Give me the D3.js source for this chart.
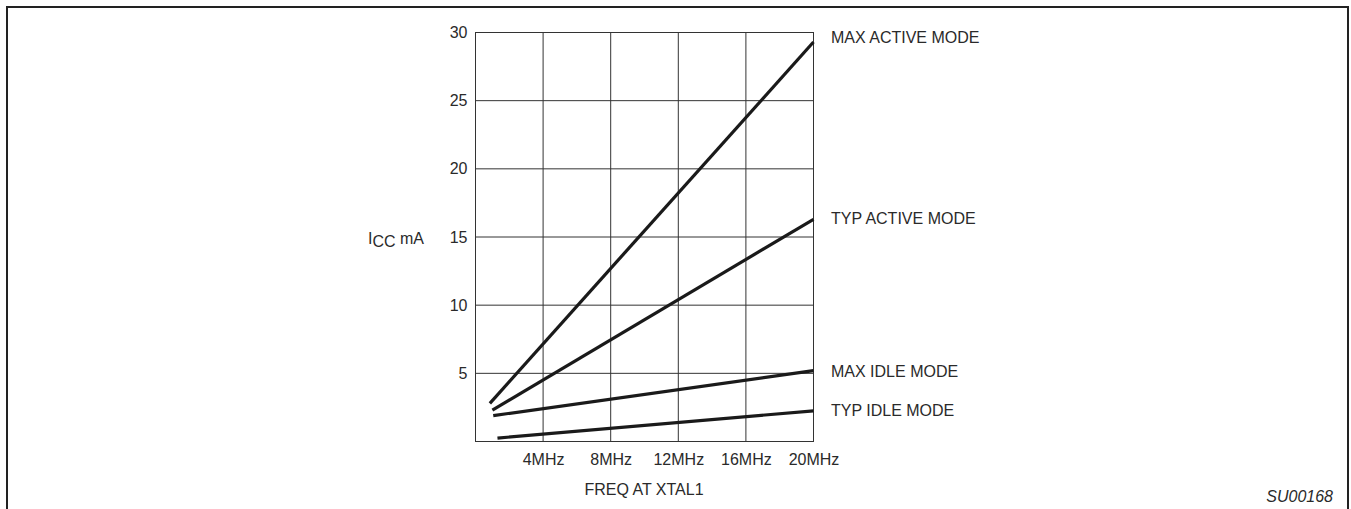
<!DOCTYPE html>
<html><head><meta charset="utf-8">
<script src="https://cdn.jsdelivr.net/npm/d3@7"></script>
<style>body{margin:0;background:#fff}svg{display:block}text{font-family:"Liberation Sans",Arial,sans-serif;fill:#2a2a2a}</style>
</head><body>
<svg id="c" width="1351" height="509"></svg>
<script>
const xTicks = [4, 8, 12, 16, 20];
const xTickLabels = ["4MHz", "8MHz", "12MHz", "16MHz", "20MHz"];
const yTicks = [5, 10, 15, 20, 25, 30];
const seriesNames = ["MAX ACTIVE MODE", "TYP ACTIVE MODE", "MAX IDLE MODE", "TYP IDLE MODE"];
const maxActive = [[0.85, 2.8], [20, 29.3]];
const typActive = [[1.0, 2.3], [20, 16.3]];
const maxIdle = [[1.05, 1.9], [20, 5.2]];
const typIdle = [[1.3, 0.25], [20, 2.25]];
const labelY = [29.7, 16.4, 5.2, 2.3];

const FS = 16;
const svg = d3.select("#c");
const x = d3.scaleLinear().domain([0, 20]).range([475.5, 813.5]);
const y = d3.scaleLinear().domain([0, 30]).range([441.5, 32.5]);

// frame
svg.append("path").attr("d", "M7,509 V7 H1348 V509").attr("fill", "none").attr("stroke", "#222").attr("stroke-width", 2);

// grid
const g = svg.append("g");
g.selectAll(".vx").data(xTicks).join("line")
  .attr("x1", d => x(d)).attr("x2", d => x(d)).attr("y1", y(0)).attr("y2", y(30))
  .attr("stroke", "#333").attr("stroke-width", 1);
g.selectAll(".hy").data(yTicks).join("line")
  .attr("x1", x(0)).attr("x2", x(20)).attr("y1", d => y(d)).attr("y2", d => y(d))
  .attr("stroke", "#333").attr("stroke-width", 1);
g.append("rect").attr("x", x(0)).attr("y", y(30)).attr("width", x(20) - x(0)).attr("height", y(0) - y(30))
  .attr("fill", "none").attr("stroke", "#333").attr("stroke-width", 1);

const yAxis = svg.append("g").attr("transform", `translate(${x(0)},0)`)
  .call(d3.axisLeft(y).tickValues(yTicks).tickSize(0).tickPadding(8));
yAxis.select(".domain").remove();
yAxis.selectAll("text").attr("font-size", FS).attr("font-family", "Liberation Sans, Arial, sans-serif").attr("fill", "#2a2a2a");

const xAxis = svg.append("g").attr("transform", `translate(0,${y(0)})`)
  .call(d3.axisBottom(x).tickValues(xTicks).tickFormat((d, i) => xTickLabels[i]).tickSize(0).tickPadding(12));
xAxis.select(".domain").remove();
xAxis.selectAll("text").attr("font-size", FS).attr("font-family", "Liberation Sans, Arial, sans-serif").attr("fill", "#2a2a2a");

svg.append("text").attr("x", 644).attr("y", 495).attr("text-anchor", "middle").attr("font-size", FS).text("FREQ AT XTAL1");

const yl = svg.append("text").attr("x", 368).attr("y", 244).attr("font-size", FS);
yl.append("tspan").text("I");
yl.append("tspan").attr("dy", 3).text("CC");
yl.append("tspan").attr("dy", -3).text(" mA");

const line = d3.line().x(d => x(d[0])).y(d => y(d[1]));
const series = [maxActive, typActive, maxIdle, typIdle];
svg.selectAll(".s").data(series).join("path")
  .attr("d", line).attr("fill", "none").attr("stroke", "#1a1a1a").attr("stroke-width", 3.2);

svg.selectAll(".lab").data(seriesNames).join("text")
  .attr("x", 831).attr("y", (d, i) => y(labelY[i]) + 6).attr("font-size", FS).text(d => d);

svg.append("text").attr("x", 1333).attr("y", 502).attr("text-anchor", "end").attr("font-size", FS)
  .attr("font-style", "italic").text("SU00168");
</script>
</body></html>
